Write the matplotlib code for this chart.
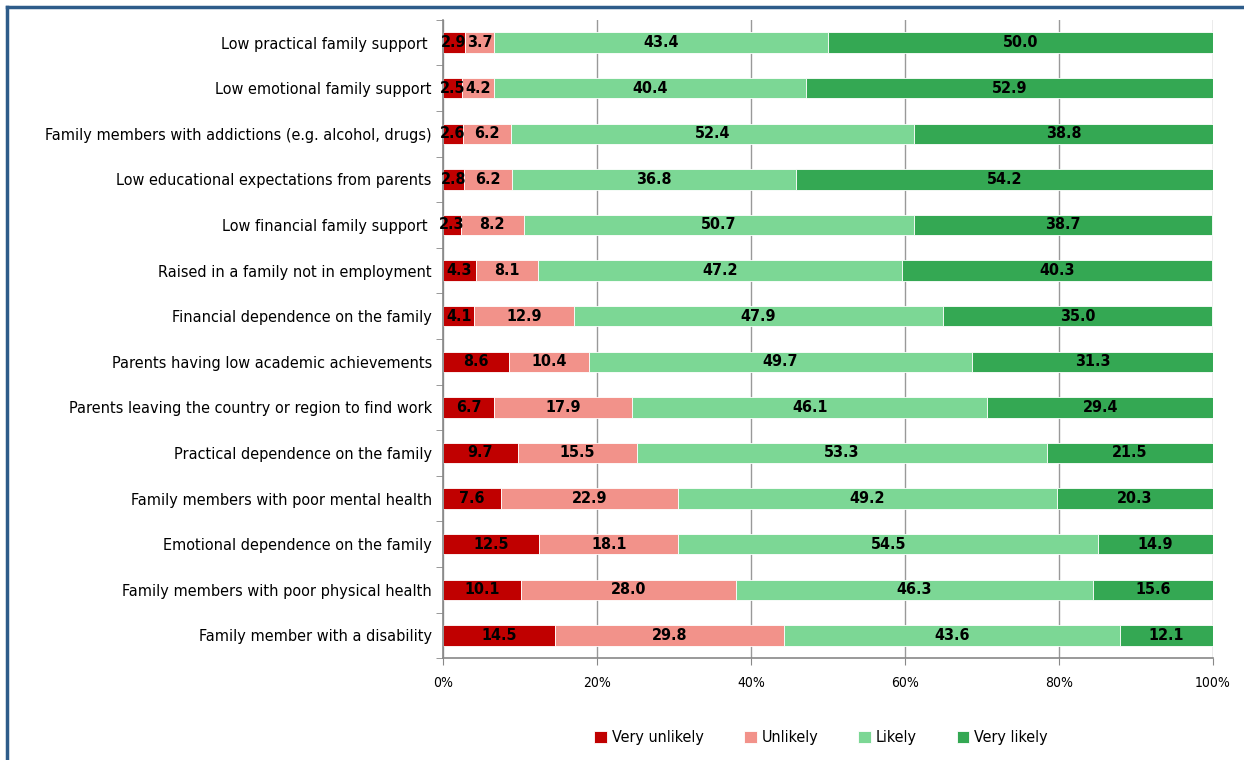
import matplotlib.pyplot as plt
from matplotlib import font_manager
import numpy as np

categories = [
    "Low practical family support ",
    "Low emotional family support",
    "Family members with addictions (e.g. alcohol, drugs)",
    "Low educational expectations from parents",
    "Low financial family support ",
    "Raised in a family not in employment",
    "Financial dependence on the family",
    "Parents having low academic achievements",
    "Parents leaving the country or region to find work",
    "Practical dependence on the family",
    "Family members with poor mental health",
    "Emotional dependence on the family",
    "Family members with poor physical health",
    "Family member with a disability",
]

very_unlikely = [2.9, 2.5, 2.6, 2.8, 2.3, 4.3, 4.1, 8.6, 6.7, 9.7, 7.6, 12.5, 10.1, 14.5]
unlikely = [3.7, 4.2, 6.2, 6.2, 8.2, 8.1, 12.9, 10.4, 17.9, 15.5, 22.9, 18.1, 28.0, 29.8]
likely = [43.4, 40.4, 52.4, 36.8, 50.7, 47.2, 47.9, 49.7, 46.1, 53.3, 49.2, 54.5, 46.3, 43.6]
very_likely = [50.0, 52.9, 38.8, 54.2, 38.7, 40.3, 35.0, 31.3, 29.4, 21.5, 20.3, 14.9, 15.6, 12.1]

series_names = ["Very unlikely", "Unlikely", "Likely", "Very likely"]
colors = ["#C00000", "#F2928A", "#7CD795", "#34A853"]

# narrow font if one is around, otherwise DejaVu condensed
names = {f.name for f in font_manager.fontManager.ttflist}
narrow = [n for n in ['Liberation Sans Narrow', 'DejaVu Sans'] if n in names]
plt.rcParams['font.family'] = narrow
plt.rcParams['font.stretch'] = 'condensed'

fig = plt.figure(figsize=(12.44, 7.6), dpi=100)
ax = fig.add_axes([0.356, 0.134, 0.619, 0.84])

y = np.arange(len(categories))
left = np.zeros(len(categories))
for name, vals, col in zip(series_names, [very_unlikely, unlikely, likely, very_likely], colors):
    vals = np.array(vals)
    bars = ax.barh(y, vals, left=left, height=0.45, color=col, label=name,
                   edgecolor='white', linewidth=0.6)
    for b, v in zip(bars, vals):
        ax.text(b.get_x() + b.get_width() / 2, b.get_y() + b.get_height() / 2,
                f"{v:.1f}", ha='center', va='center', fontsize=11.5,
                fontweight='bold', color='black')
    left += vals

ax.set_xlim(0, 100)
ax.set_ylim(len(categories) - 0.5, -0.5)
ax.set_yticks(y)
ax.set_yticklabels(categories, fontsize=11.6)
ax.set_yticks(np.arange(-0.5, len(categories)), minor=True)
ax.tick_params(axis='y', which='major', length=0, pad=8)
ax.tick_params(axis='y', which='minor', length=5, color='#888888')

ax.set_xticks(np.arange(0, 101, 20))
ax.set_xticklabels([f"{t}%" for t in range(0, 101, 20)], fontsize=10)
ax.tick_params(axis='x', length=5, color='#888888', pad=8)
ax.grid(axis='x', color='#999999', linewidth=1)
ax.set_axisbelow(True)

for s in ['top', 'right']:
    ax.spines[s].set_visible(False)
ax.spines['left'].set_color('#888888')
ax.spines['bottom'].set_color('#888888')
ax.spines['left'].set_linewidth(1.2)
ax.spines['bottom'].set_linewidth(1.2)

fig.legend(loc='center', bbox_to_anchor=(0.66, 0.029), ncol=4, frameon=False,
           fontsize=11.5, handlelength=0.8, handleheight=0.8, handletextpad=0.3,
           columnspacing=2.5)

# outer frame on the left and top edges
fig.add_artist(plt.Line2D([0.0055, 0.0055], [0, 0.991], color='#2E5C8A', linewidth=2.5))
fig.add_artist(plt.Line2D([0.0055, 1.0], [0.991, 0.991], color='#2E5C8A', linewidth=2.5))

fig.savefig("out.png", dpi=100)
